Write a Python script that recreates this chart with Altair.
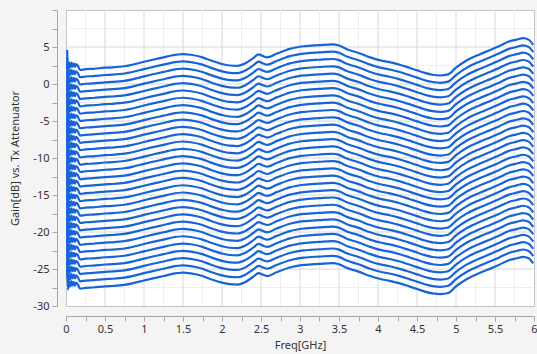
import altair as alt
import pandas as pd

# Frequency points (GHz) and gain of the 0 dB attenuator curve (dB)
freq = [0.015, 0.025, 0.04, 0.055, 0.07, 0.085, 0.10, 0.115, 0.13, 0.15, 0.18,
        0.25, 0.35, 0.5, 0.6, 0.75, 0.85, 1.0, 1.1, 1.25, 1.35, 1.5, 1.6, 1.75,
        1.85, 2.0, 2.1, 2.2, 2.3, 2.4, 2.47, 2.52, 2.58, 2.7, 2.87, 3.05, 3.25,
        3.42, 3.5, 3.6, 3.75, 3.9, 4.03, 4.15, 4.28, 4.4, 4.5, 4.6, 4.7, 4.8,
        4.9, 5.0, 5.14, 5.3, 5.44, 5.55, 5.67, 5.78, 5.86, 5.93, 5.99]
top_gain = [4.6, 1.8, 2.9, 2.2, 2.9, 2.3, 2.8, 2.3, 2.7, 2.5, 1.9,
            2.0, 2.05, 2.2, 2.25, 2.4, 2.6, 3.0, 3.25, 3.6, 3.85, 4.05, 3.95, 3.6,
            3.2, 2.7, 2.5, 2.45, 2.8, 3.5, 4.0, 3.8, 3.6, 4.1, 4.75, 5.1, 5.25,
            5.35, 5.2, 4.7, 4.2, 3.6, 3.2, 2.95, 2.6, 2.2, 1.85, 1.5, 1.25, 1.15,
            1.3, 2.2, 3.2, 4.0, 4.6, 5.1, 5.7, 6.0, 6.2, 6.0, 5.3]
# Tx attenuator settings (dB) and gain drop per attenuator dB
attenuator = [0, 1, 2, 3, 4, 5, 6, 7, 8, 9, 10, 11, 12, 13, 14, 15, 16, 17,
              18, 19, 20, 21, 22, 23, 24, 25, 26, 27, 28, 29, 30]
gain_per_db = 0.985

# Grid / tick values
x_minor = [0.25, 0.75, 1.25, 1.75, 2.25, 2.75, 3.25, 3.75, 4.25, 4.75, 5.25, 5.75]
x_major = [0.5, 1.0, 1.5, 2.0, 2.5, 3.0, 3.5, 4.0, 4.5, 5.0, 5.5]
y_minor = [7.5, 2.5, -2.5, -7.5, -12.5, -17.5, -22.5, -27.5]
y_major = [5, 0, -5, -10, -15, -20, -25]
x_ticks = [0, 0.25, 0.5, 0.75, 1, 1.25, 1.5, 1.75, 2, 2.25, 2.5, 2.75, 3, 3.25,
           3.5, 3.75, 4, 4.25, 4.5, 4.75, 5, 5.25, 5.5, 5.75, 6]
y_ticks = [10, 7.5, 5, 2.5, 0, -2.5, -5, -7.5, -10, -12.5, -15, -17.5, -20,
           -22.5, -25, -27.5, -30]

rows = []
for a in attenuator:
    for f, g in zip(freq, top_gain):
        rows.append({"freq": f, "gain": g - a * gain_per_db, "att": a})
df = pd.DataFrame(rows)

FONT = "Noto Sans"
xs = alt.Scale(domain=[0, 6], nice=False, zero=False)
ys = alt.Scale(domain=[-30, 10], nice=False, zero=False)
X_TITLE = "Freq[GHz]"
Y_TITLE = "Gain[dB] vs. Tx Attenuator"
x_axis = alt.Axis(values=x_ticks, grid=False, offset=10, tickSize=5,
                  labelExpr="datum.value % 0.5 == 0 ? '' + datum.value : ''",
                  labelFlush=False, labelPadding=2, titlePadding=5)
y_axis = alt.Axis(values=y_ticks, grid=False, offset=9, tickSize=5,
                  labelExpr="(datum.value % 5 == 0 && datum.value < 10) ? '' + datum.value : ''",
                  labelFlush=False, labelPadding=3, titlePadding=12)


def vrules(vals, color):
    return alt.Chart(pd.DataFrame({"v": vals})).mark_rule(
        color=color, strokeWidth=1).encode(
        x=alt.X("v:Q", scale=xs, axis=x_axis, title=X_TITLE))


def hrules(vals, color):
    return alt.Chart(pd.DataFrame({"v": vals})).mark_rule(
        color=color, strokeWidth=1).encode(
        y=alt.Y("v:Q", scale=ys, axis=y_axis, title=Y_TITLE))


lines = alt.Chart(df).mark_line(color="#1763d8", strokeWidth=2.2,
                                interpolate="monotone").encode(
    x=alt.X("freq:Q", scale=xs, axis=x_axis, title=X_TITLE),
    y=alt.Y("gain:Q", scale=ys, axis=y_axis, title=Y_TITLE),
    detail="att:N",
    order="freq:Q",
)

chart = alt.layer(
    vrules(x_minor, "#eeeeee"), hrules(y_minor, "#eeeeee"),
    vrules(x_major, "#d8d8d8"), hrules(y_major, "#d8d8d8"), lines
).properties(
    width=468, height=296,
    padding={"left": 66, "top": 10, "right": 3, "bottom": 48},
    autosize=alt.AutoSizeParams(type="none"),
    background="#f4f4f4",
).configure_view(
    stroke="#c4c4c4", fill="white", strokeWidth=1
).configure_axis(
    domainColor="#a8a8a8", tickColor="#a8a8a8",
    labelFont=FONT, titleFont=FONT, labelFontSize=11, titleFontSize=11,
    labelColor="#333333", titleColor="#333333", titleFontWeight="normal",
)

chart.save("out.html", embed_options={"renderer": "svg", "actions": False})
